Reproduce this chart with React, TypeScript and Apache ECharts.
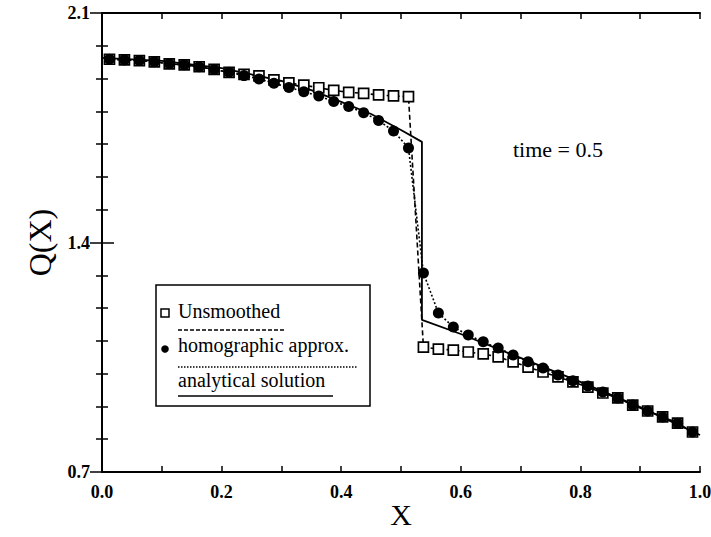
import React, { useEffect, useRef } from "react";
import * as echarts from "echarts";

const gridX = [
  0.0125, 0.0375, 0.0625, 0.0875, 0.1125, 0.1375, 0.1625, 0.1875, 0.2125, 0.2375,
  0.2625, 0.2875, 0.3125, 0.3375, 0.3625, 0.3875, 0.4125, 0.4375, 0.4625, 0.4875,
  0.5125, 0.5375, 0.5625, 0.5875, 0.6125, 0.6375, 0.6625, 0.6875, 0.7125, 0.7375,
  0.7625, 0.7875, 0.8125, 0.8375, 0.8625, 0.8875, 0.9125, 0.9375, 0.9625, 0.9875,
];

const unsmoothedQ = [
  1.959, 1.957, 1.955, 1.951, 1.945, 1.942, 1.936, 1.928, 1.919, 1.913,
  1.908, 1.896, 1.887, 1.88, 1.872, 1.864, 1.858, 1.855, 1.85, 1.847,
  1.845, 1.081, 1.075, 1.072, 1.066, 1.06, 1.051, 1.036, 1.02, 1.005,
  0.99, 0.975, 0.959, 0.941, 0.926, 0.904, 0.886, 0.868, 0.849, 0.822,
];

const homographicQ = [
  1.959, 1.957, 1.955, 1.951, 1.945, 1.942, 1.936, 1.928, 1.919, 1.909,
  1.899, 1.886, 1.873, 1.86, 1.847, 1.83, 1.815, 1.796, 1.772, 1.74,
  1.688, 1.307, 1.185, 1.142, 1.118, 1.097, 1.078, 1.057, 1.036, 1.017,
  0.996, 0.978, 0.962, 0.944, 0.926, 0.904, 0.886, 0.868, 0.849, 0.822,
];

const analyticalX = [0, 0.1, 0.2, 0.3, 0.35, 0.4, 0.45, 0.5, 0.535, 0.535, 0.6, 0.7, 0.8, 0.9, 1.0];
const analyticalQ = [1.963, 1.954, 1.932, 1.893, 1.865, 1.829, 1.792, 1.743, 1.707, 1.164, 1.121, 1.048, 0.975, 0.898, 0.813];

const legendLabels = ["Unsmoothed", "homographic approx.", "analytical solution"];
const annotation = "time = 0.5";
const xTitle = "X";
const yTitle = "Q(X)";

const FONT = '"Liberation Serif", "Times New Roman", serif';

export default function App() {
  const ref = useRef<HTMLDivElement>(null);
  useEffect(() => {
    document.body.style.margin = "0";
    if (!ref.current) return;
    const chart = echarts.init(ref.current, undefined, { renderer: "svg" });
    const zip = (xs: number[], ys: number[]) => xs.map((x, i) => [x, ys[i]]);

    const axisCommon = {
      type: "value" as const,
      axisLine: { show: true, lineStyle: { color: "#000", width: 2 } },
      splitLine: { show: false },
    };

    chart.setOption({
      animation: false,
      backgroundColor: "#fff",
      grid: { left: 102, right: 11, top: 13, bottom: 65, containLabel: false, outerBoundsMode: "none" },
      xAxis: [
        {
          ...axisCommon,
          min: 0,
          max: 1,
          interval: 0.2,
          position: "bottom",
          axisTick: { show: true, inside: true, length: 6, lineStyle: { color: "#000", width: 1.5 } },
          minorTick: { show: true, splitNumber: 2, length: 6, lineStyle: { color: "#000", width: 1.5 } },
          axisLabel: {
            fontFamily: FONT,
            fontSize: 18,
            fontWeight: "bold",
            color: "#000",
            margin: 11,
            formatter: (v: number) => v.toFixed(1),
          },
        },
        {
          ...axisCommon,
          min: 0,
          max: 1,
          interval: 0.2,
          position: "top",
          axisTick: { show: true, inside: true, length: 6, lineStyle: { color: "#000", width: 1.5 } },
          minorTick: { show: true, splitNumber: 2, length: 6, lineStyle: { color: "#000", width: 1.5 } },
          axisLabel: { show: false },
        },
      ],
      yAxis: [
        {
          ...axisCommon,
          min: 0.7,
          max: 2.1,
          interval: 0.7,
          position: "left",
          name: yTitle,
          nameLocation: "middle",
          nameGap: 46,
          nameTextStyle: { fontFamily: FONT, fontSize: 32, color: "#000" },
          axisTick: { show: true, inside: true, length: 12, lineStyle: { color: "#000", width: 1.5 } },
          minorTick: { show: true, splitNumber: 7, length: 6, lineStyle: { color: "#000", width: 1.5 } },
          axisLabel: {
            fontFamily: FONT,
            fontSize: 18,
            fontWeight: "bold",
            color: "#000",
            margin: 12,
            formatter: (v: number) => v.toFixed(1),
          },
        },
        {
          ...axisCommon,
          min: 0.7,
          max: 2.1,
          interval: 0.7,
          position: "right",
          axisTick: { show: true, inside: true, length: 12, lineStyle: { color: "#000", width: 1.5 } },
          minorTick: { show: true, splitNumber: 7, length: 6, lineStyle: { color: "#000", width: 1.5 } },
          axisLabel: { show: false },
        },
      ],
      series: [
        {
          name: legendLabels[2],
          type: "line",
          data: zip(analyticalX, analyticalQ),
          showSymbol: false,
          symbol: "none",
          lineStyle: { color: "#000", width: 1.8 },
          z: 2,
        },
        {
          name: legendLabels[0],
          type: "line",
          data: zip(gridX, unsmoothedQ),
          symbol: "rect",
          symbolSize: 10,
          itemStyle: { color: "#fff", borderColor: "#000", borderWidth: 1.7 },
          lineStyle: { color: "#000", width: 1.6, type: [5, 3] },
          z: 3,
        },
        {
          name: legendLabels[1],
          type: "line",
          data: zip(gridX, homographicQ),
          symbol: "circle",
          symbolSize: 11,
          itemStyle: { color: "#000" },
          lineStyle: { color: "#000", width: 1.6, type: [2, 2] },
          z: 4,
        },
      ],
      graphic: [
        {
          type: "text",
          x: 401,
          y: 514,
          style: {
            text: xTitle,
            fontFamily: FONT,
            fontSize: 30,
            fill: "#000",
            align: "center",
            verticalAlign: "middle",
          },
        },
        {
          type: "text",
          left: 513,
          top: 138,
          style: { text: annotation, fontFamily: FONT, fontSize: 22, fill: "#000" },
        },
        {
          type: "rect",
          shape: { x: 156, y: 285, width: 214, height: 121 },
          style: { fill: "#fff", stroke: "#000", lineWidth: 1.5 },
          z: 10,
        },
        {
          type: "rect",
          shape: { x: 161, y: 309, width: 8, height: 8 },
          style: { fill: "#fff", stroke: "#000", lineWidth: 1.5 },
          z: 11,
        },
        {
          type: "text",
          x: 178,
          y: 311,
          style: { text: legendLabels[0], fontFamily: FONT, fontSize: 20, fill: "#000", verticalAlign: "middle" },
          z: 11,
        },
        {
          type: "line",
          shape: { x1: 178, y1: 330, x2: 284, y2: 330 },
          style: { stroke: "#000", lineWidth: 1.5, lineDash: [4, 2] },
          z: 11,
        },
        {
          type: "circle",
          shape: { cx: 165, cy: 349, r: 3.8 },
          style: { fill: "#000" },
          z: 11,
        },
        {
          type: "text",
          x: 178,
          y: 345,
          style: { text: legendLabels[1], fontFamily: FONT, fontSize: 20, fill: "#000", verticalAlign: "middle" },
          z: 11,
        },
        {
          type: "line",
          shape: { x1: 178, y1: 367, x2: 357, y2: 367 },
          style: { stroke: "#000", lineWidth: 1.3, lineDash: [1.5, 1.5] },
          z: 11,
        },
        {
          type: "text",
          x: 178,
          y: 380,
          style: { text: legendLabels[2], fontFamily: FONT, fontSize: 20, fill: "#000", verticalAlign: "middle" },
          z: 11,
        },
        {
          type: "line",
          shape: { x1: 178, y1: 396, x2: 333, y2: 396 },
          style: { stroke: "#000", lineWidth: 1.6 },
          z: 11,
        },
      ],
    });
    return () => chart.dispose();
  }, []);
  return <div ref={ref} style={{ width: 711, height: 537 }} />;
}
